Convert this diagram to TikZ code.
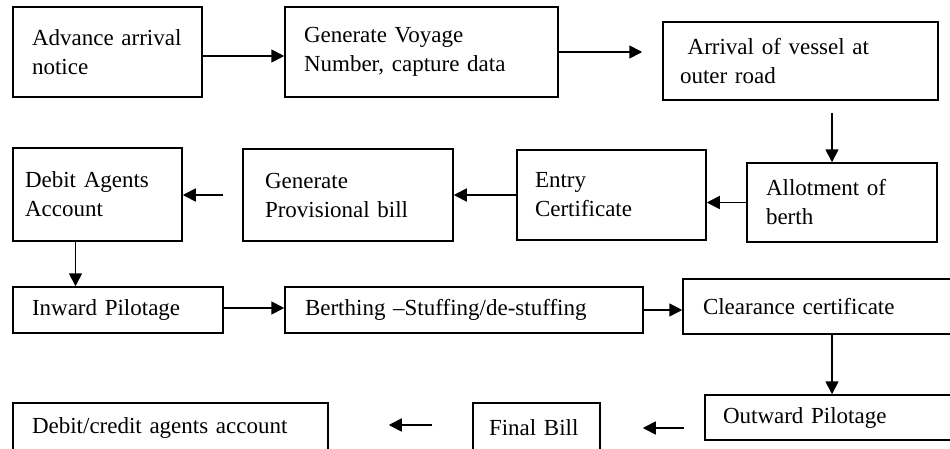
\documentclass[tikz,border=0pt]{standalone}
\usepackage{fontspec}
\setmainfont{Liberation Serif}
\usepackage{tikz}
\usetikzlibrary{arrows.meta}

\tikzset{
  stage/.style={draw, line width=1.5pt, align=left, inner xsep=19pt, inner ysep=0pt,
    font=\fontsize{23}{29}\selectfont},
  flow/.style={-{Triangle[length=13pt,width=13pt]}, line width=1.7pt}
}

\begin{document}
\begin{tikzpicture}[x=1pt,y=-1pt]
    \useasboundingbox (0,0) rectangle (950,448);
    \clip (0,0) rectangle (950,448);

    % first row
    \node[stage, text width=151pt, minimum height=90pt] (adv) at (107.5,52) {Advance arrival\\notice};
    \node[stage, text width=235pt, minimum height=90pt] (voyage) at (421.5,52) {Generate Voyage\\Number, capture data};
    \node[stage, inner xsep=17pt, text width=241pt, minimum height=78pt] (arrival) at (800.5,61) {\ Arrival of vessel at\\outer road};

    % second row
    \node[stage, text width=152pt, minimum height=79pt] (allot) at (842,202.5) {Allotment of\\berth};
    \node[stage, inner xsep=18pt, text width=153pt, minimum height=90pt] (entry) at (611.5,195) {Entry\\Certificate};
    \node[stage, inner xsep=22pt, text width=166pt, minimum height=92pt] (provbill) at (348,195) {Generate\\Provisional bill};
    \node[stage, inner xsep=12pt, text width=145pt, minimum height=93pt] (debitag) at (97.5,194.5) {Debit Agents\\Account};

    % third row
    \node[stage, text width=172pt, minimum height=46pt] (inward) at (118,310) {Inward Pilotage};
    \node[stage, inner xsep=20pt, text width=318pt, minimum height=46pt] (berthing) at (464,310) {Berthing --Stuffing/de-stuffing};
    \node[stage, inner xsep=20pt, text width=230pt, minimum height=55pt] (clearance) at (818,306.5) {Clearance certificate};

    % last row
    \node[stage, inner xsep=18pt, text width=212pt, minimum height=45pt] (outward) at (829,417.5) {Outward Pilotage};
    \node[stage, inner xsep=16pt, text width=95pt, minimum height=50pt] (finalbill) at (536.5,428) {Final Bill};
    \node[stage, text width=277pt, minimum height=50pt] (debitcr) at (170.5,428) {Debit/credit agents account};

    % arrows
    \draw[flow] ([yshift=-4pt]adv.east) -- ([yshift=-4pt]voyage.west);
    \draw[flow, shorten >=20pt] (voyage.east) -- (voyage.east -| arrival.west);
    \draw[flow, shorten <=12pt] ([xshift=-10pt]allot.north |- arrival.south) -- ([xshift=-10pt]allot.north);
    \draw[flow] (allot.west) -- (allot.west -| entry.east);
    \draw[flow] (entry.west) -- (entry.west -| provbill.east);
    \draw[flow, shorten <=19pt] (provbill.west) -- (provbill.west -| debitag.east);
    \draw[flow] ([xshift=-22pt]debitag.south) -- ([xshift=-22pt]debitag.south |- inward.north);
    \draw[flow] ([yshift=2pt]inward.east) -- ([yshift=2pt]berthing.west);
    \draw[flow] (berthing.east) -- (berthing.east -| clearance.west);
    \draw[flow] ([xshift=14pt]clearance.south) -- ([xshift=14pt]clearance.south |- outward.north);
    \draw[flow, shorten <=20pt, shorten >=42pt] (outward.west |- finalbill.east) -- (finalbill.east);
    \draw[flow, shorten <=40pt, shorten >=60pt] ([yshift=3pt]finalbill.west) -- ([yshift=3pt]debitcr.east);

\end{tikzpicture}
\end{document}
